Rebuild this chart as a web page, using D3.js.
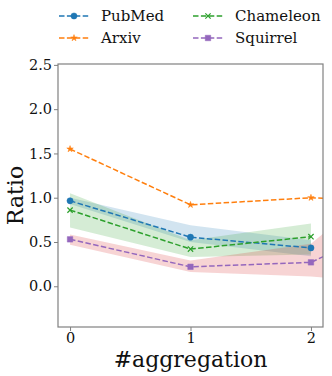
<!DOCTYPE html>
<html><head><meta charset="utf-8">
<script src="https://cdn.jsdelivr.net/npm/d3@7"></script>
<style>body{margin:0;background:#fff}svg{display:block}text{font-family:"DejaVu Serif",serif !important;fill:#111}</style>
</head><body><svg id="c" width="332" height="376"></svg>
<script>
// ---- data ----
const xValues = [0, 1, 2, 3];
const xTicks = [0, 1, 2];
const yTicks = [0.0, 0.5, 1.0, 1.5, 2.0, 2.5];
const seriesNames = ["PubMed", "Arxiv", "Chameleon", "Squirrel"];
const pubmed = [0.965, 0.554, 0.433];
const pubmedLo = [0.93, 0.50, 0.34];
const pubmedHi = [1.00, 0.69, 0.52];
const arxiv = [1.55, 0.92, 1.00, 0.95];
const chameleon = [0.86, 0.42, 0.56];
const chameleonLo = [0.665, 0.33, 0.36];
const chameleonHi = [1.05, 0.52, 0.71];
const squirrel = [0.53, 0.22, 0.27, 0.90];
const squirrelLo = [0.47, 0.16, 0.11, 0.00];
const squirrelHi = [0.585, 0.29, 0.48, 1.60];

const colors = {PubMed:"#1f77b4", Arxiv:"#ff7f0e", Chameleon:"#2ca02c", Squirrel:"#9467bd"};
const bandColors = {PubMed:"#1f77b4", Chameleon:"#2ca02c", Squirrel:"#d62728"};
const markers = {PubMed:d3.symbolCircle, Arxiv:d3.symbolStar, Chameleon:d3.symbolX, Squirrel:d3.symbolSquare};
const markerSize = {PubMed:30, Arxiv:13, Chameleon:20, Squirrel:30};

const series = [
  {name:"PubMed", v:pubmed, lo:pubmedLo, hi:pubmedHi},
  {name:"Arxiv", v:arxiv},
  {name:"Chameleon", v:chameleon, lo:chameleonLo, hi:chameleonHi},
  {name:"Squirrel", v:squirrel, lo:squirrelLo, hi:squirrelHi}
];

const L=58, R=323, T=64, B=327;
const svg = d3.select("#c");
const x = d3.scaleLinear().domain([-0.1, 2.1]).range([L, R]);
const y = d3.scaleLinear().domain([-0.46, 2.51]).range([B, T]);

svg.append("defs").append("clipPath").attr("id","clip")
  .append("rect").attr("x",L).attr("y",T).attr("width",R-L).attr("height",B-T);
const plot = svg.append("g").attr("clip-path","url(#clip)");

// bands
series.filter(s=>s.lo).forEach(s=>{
  const area = d3.area().x((d,i)=>x(xValues[i])).y0((d,i)=>y(s.lo[i])).y1((d,i)=>y(s.hi[i]));
  plot.append("path").datum(s.lo).attr("d",area)
    .attr("fill",bandColors[s.name]).attr("fill-opacity",0.2).attr("stroke","none");
});

// lines + markers
series.forEach(s=>{
  const line = d3.line().x((d,i)=>x(xValues[i])).y(d=>y(d));
  plot.append("path").datum(s.v).attr("d",line).attr("fill","none")
    .attr("stroke",colors[s.name]).attr("stroke-width",1.5).attr("stroke-dasharray","5.5,2.4");
  plot.selectAll(null).data(s.v).enter().append("path")
    .attr("transform",(d,i)=>`translate(${x(xValues[i])},${y(d)})`)
    .attr("d",d3.symbol().type(markers[s.name]).size(markerSize[s.name]))
    .attr("fill",colors[s.name])
    .attr("stroke",colors[s.name]).attr("stroke-width", s.name==="Chameleon"?1.2:0.5);
});

// frame
svg.append("rect").attr("x",L).attr("y",T).attr("width",R-L).attr("height",B-T)
  .attr("fill","none").attr("stroke","#808080").attr("stroke-width",1.2);

// axes
const xAxis = svg.append("g").attr("transform",`translate(0,${B})`)
  .call(d3.axisBottom(x).tickValues(xTicks).tickFormat(d3.format("d")).tickSize(4).tickPadding(2));
const yAxis = svg.append("g").attr("transform",`translate(${L},0)`)
  .call(d3.axisLeft(y).tickValues(yTicks).tickFormat(d3.format(".1f")).tickSize(4).tickPadding(2));
[xAxis,yAxis].forEach(a=>{
  a.attr("font-family",null).attr("font-size",null);
  a.select(".domain").remove();
  a.selectAll(".tick line").attr("stroke","#808080").attr("stroke-width",1);
  a.selectAll(".tick text").style("font-size","14.5px").attr("fill","#111");
});

// axis labels
svg.append("text").attr("x",(L+R)/2).attr("y",367).attr("text-anchor","middle")
  .style("font-size","22px").text("#aggregation");
svg.append("text").attr("transform",`translate(23,${(T+B)/2}) rotate(-90)`).attr("text-anchor","middle")
  .style("font-size","22px").text("Ratio");

// legend
const legPos = [
  {name:"PubMed", lx:59, ly:16},
  {name:"Arxiv", lx:59, ly:38},
  {name:"Chameleon", lx:193, ly:16},
  {name:"Squirrel", lx:193, ly:38}
];
legPos.forEach(p=>{
  const g = svg.append("g");
  g.append("line").attr("x1",p.lx).attr("x2",p.lx+30).attr("y1",p.ly).attr("y2",p.ly)
    .attr("stroke",colors[p.name]).attr("stroke-width",1.5).attr("stroke-dasharray","5.5,2.4");
  g.append("path").attr("transform",`translate(${p.lx+15},${p.ly})`)
    .attr("d",d3.symbol().type(markers[p.name]).size(markerSize[p.name]))
    .attr("fill",colors[p.name]).attr("stroke",colors[p.name]).attr("stroke-width",p.name==="Chameleon"?1.2:0.5);
  g.append("text").attr("x",p.lx+42).attr("y",p.ly).attr("dy","0.35em")
    .style("font-size","15px").text(p.name);
});
</script></body></html>
